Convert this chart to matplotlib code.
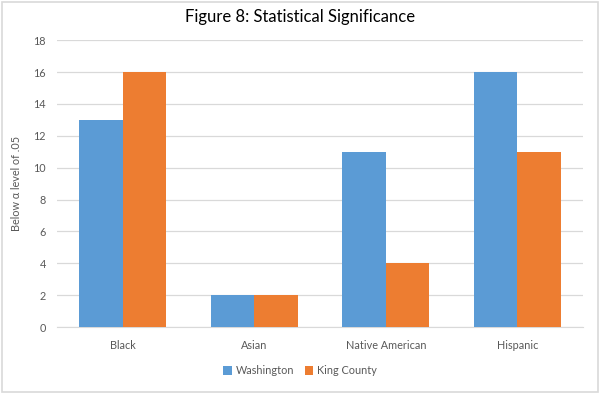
import numpy as np
import matplotlib
matplotlib.use("Agg")
import matplotlib.pyplot as plt
from matplotlib.patches import Rectangle

plt.rcParams['font.family'] = ['Lato', 'DejaVu Sans']

categories = ['Black', 'Asian', 'Native American', 'Hispanic']
washington = [13, 2, 11, 16]
king_county = [16, 2, 4, 11]
yticks = [0, 2, 4, 6, 8, 10, 12, 14, 16, 18]

blue = '#5B9BD5'
orange = '#ED7D31'
grey = '#595959'

fig = plt.figure(figsize=(6, 3.94), dpi=100)
fig.patches.append(Rectangle((0.004, 0.005), 0.992, 0.99, transform=fig.transFigure,
                             fill=False, edgecolor='#D9D9D9', linewidth=1.2))
ax = fig.add_axes([0.095, 0.17, 0.877, 0.728])

x = np.arange(len(categories))
w = 0.33
ax.bar(x - w / 2, washington, w, color=blue, label='Washington', zorder=3)
ax.bar(x + w / 2, king_county, w, color=orange, label='King County', zorder=3)

ax.set_xlim(-0.5, len(categories) - 0.5)
ax.set_ylim(0, 18)
ax.set_yticks(yticks)
ax.set_xticks(x)
ax.set_xticklabels(categories)
ax.tick_params(axis='both', length=0, labelsize=7.8, colors=grey, pad=9)
ax.tick_params(axis='y', pad=8)
ax.yaxis.grid(True, color='#D9D9D9', linewidth=0.9, zorder=0)
for s in ['top', 'right', 'left']:
    ax.spines[s].set_visible(False)
ax.spines['bottom'].set_color('#D9D9D9')

ax.set_ylabel('Below α level of .05', fontsize=7.8, color=grey, labelpad=8)
fig.suptitle('Figure 8: Statistical Significance', y=0.978, fontsize=12, color='black')

fig.legend(loc='lower center', bbox_to_anchor=(0.5, 0.02), ncol=2, frameon=False,
           fontsize=7.8, labelcolor=grey, handlelength=0.8, handleheight=0.8,
           handletextpad=0.3, columnspacing=1.0)

fig.savefig('out.png', dpi=100)
